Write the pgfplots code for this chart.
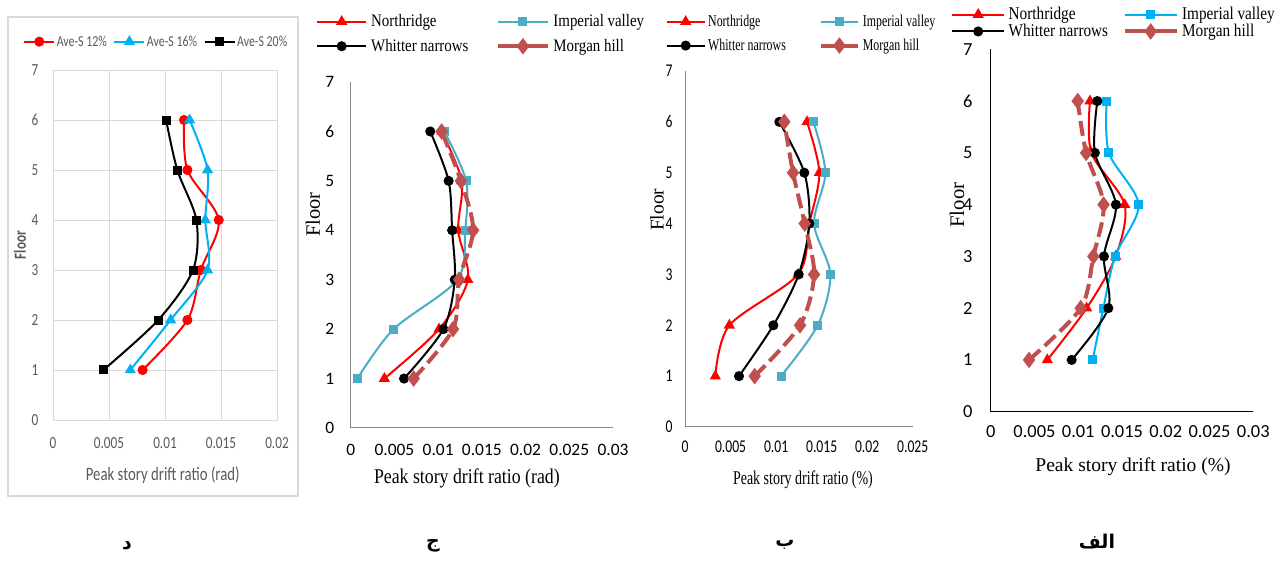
\documentclass[border=0pt]{standalone}
\usepackage{pgfplots}
\pgfplotsset{compat=1.18}
\usepackage{fontspec}
\setmainfont{Liberation Serif}
\newfontfamily\cbp[FakeStretch=0.78]{Carlito}
\newfontfamily\cbr{Carlito}
\newfontfamily\cbn[FakeStretch=0.76]{Carlito}
\newfontfamily\tnr[FakeStretch=0.85]{Liberation Serif}
\newfontfamily\tnrc[FakeStretch=0.72]{Liberation Serif}
\newfontfamily\tnrn{Liberation Serif}
\newfontfamily\arab[Script=Arabic]{DejaVu Sans}
\TeXXeTstate=1
\definecolor{xred}{HTML}{FF0000}
\definecolor{xcyan}{HTML}{00B0F0}
\definecolor{xteal}{HTML}{4BACC6}
\definecolor{xbrick}{HTML}{C0504D}
\definecolor{xgray}{HTML}{595959}
\definecolor{xgrid}{HTML}{D9D9D9}
\definecolor{xaxis}{HTML}{868686}
\newcommand\fs[1]{\fontsize{#1}{#1}\selectfont}
\pgfplotsset{
  common/.style={scale only axis, anchor=south west, clip=false,
    ymin=0, ymax=7, ytick={0,1,2,3,4,5,6,7}, yticklabels={0,1,2,3,4,5,6,7},
    scaled x ticks=false, scaled y ticks=false,
    tick style={draw=none},
    legend image post style={solid},
    legend cell align=left},
  panel/.style={common, axis x line*=bottom, axis y line*=left,
    axis line style={-, xaxis, line width=1bp},
    xmin=0, xmax=0.03,
    xtick={0,0.005,0.01,0.015,0.02,0.025,0.03},
    xticklabels={0,0.005,0.01,0.015,0.02,0.025,0.03}},
  leglen/.style={legend image code/.code={\draw[mark repeat=2,mark phase=2,##1] plot coordinates {(0bp,0bp) (#1/2,0bp) (#1,0bp)};}},
  nr/.style={xred, line width=2bp, smooth, mark=triangle*, mark size=4.5bp},
  iv/.style={#1, line width=2bp, smooth, mark=square*, mark size=3.5bp},
  wn/.style={black, line width=2bp, smooth, mark=*, mark size=4bp},
  mh/.style={xbrick, line width=4bp, smooth, dash pattern=on 15bp off 6bp, mark=diamond*, mark size=5bp, mark options={solid}},
}
\begin{document}
\begin{tikzpicture}
\useasboundingbox (0,0) rectangle (1283bp,561bp);
\draw[xgrid, line width=1.2bp] (8bp,65bp) rectangle (298bp,544bp);
% ---------------- panel d
\begin{axis}[common, at={(53bp,141bp)}, width=224bp, height=350bp,
  xmin=0, xmax=0.02, xtick={0,0.005,0.01,0.015,0.02}, xticklabels={0,0.005,0.01,0.015,0.02},
  grid=major, major grid style={xgrid, line width=0.8bp}, axis line style={xgrid, line width=0.8bp},
  xticklabel style={font=\cbp\fs{17}, text=xgray, anchor=center, yshift=-23bp},
  yticklabel style={font=\cbp\fs{17}, text=xgray, anchor=center, xshift=-18bp},
  xlabel={Peak story drift ratio (rad)},
  xlabel style={at={(axis description cs:0.49,-0.157)}, anchor=center, font=\cbp\fs{19}, text=xgray},
  ylabel={Floor},
  ylabel style={at={(axis description cs:-0.147,0.5)}, anchor=center, font=\cbp\bfseries\fs{17}, text=xgray},
  leglen=30bp, legend columns=3,
  legend style={draw=none, fill=none, at={(axis description cs:-0.147,1.081)}, anchor=west,
    font=\cbp\fs{15.3}, text=xgray, nodes={inner sep=1.5bp},
    /tikz/every even column/.append style={column sep=5bp}},
]
\addplot[xred, line width=2bp, smooth, mark=*, mark size=4bp] coordinates {(0.0080,1)(0.0120,2)(0.0132,3)(0.0148,4)(0.0120,5)(0.0117,6)};
\addlegendentry{Ave-S 12\%}
\addplot[xcyan, line width=2bp, smooth, mark=triangle*, mark size=4.5bp] coordinates {(0.0069,1)(0.0105,2)(0.0138,3)(0.0136,4)(0.0138,5)(0.0122,6)};
\addlegendentry{Ave-S 16\%}
\addplot[black, line width=2bp, smooth, mark=square*, mark size=3.5bp] coordinates {(0.0045,1)(0.0094,2)(0.0125,3)(0.0128,4)(0.0111,5)(0.0101,6)};
\addlegendentry{Ave-S 20\%}
\end{axis}
% ---------------- panel j
\begin{axis}[panel, at={(350.7bp,133bp)}, width=262.3bp, height=346bp,
  xticklabel style={font=\cbr\fs{17.5}, anchor=center, yshift=-22bp},
  yticklabel style={font=\cbr\fs{17.5}, anchor=center, xshift=-21bp},
  xlabel={Peak story drift ratio (rad)},
  xlabel style={at={(axis description cs:0.443,-0.145)}, anchor=center, font=\tnr\fs{21}},
  ylabel={Floor},
  ylabel style={at={(axis description cs:-0.144,0.616)}, anchor=center, font=\tnrn\fs{20.5}},
  leglen=49bp, legend columns=2,
  legend style={draw=none, fill=none, at={(axis description cs:-0.1437,1.139)}, anchor=west,
    font=\tnr\fs{17.6}, nodes={inner sep=1bp}, row sep=9bp,
    /tikz/every odd column/.append style={column sep=3bp},
    /tikz/every even column/.append style={column sep=27bp}},
]
\addplot[nr] coordinates {(0.00385,1)(0.0101,2)(0.0134,3)(0.0123,4)(0.0127,5)(0.0104,6)};
\addlegendentry{Northridge}
\addplot[iv=xteal] coordinates {(0.00076,1)(0.0049,2)(0.0122,3)(0.0131,4)(0.0132,5)(0.0107,6)};
\addlegendentry{Imperial valley}
\addplot[wn] coordinates {(0.0061,1)(0.0106,2)(0.0119,3)(0.0116,4)(0.0112,5)(0.0091,6)};
\addlegendentry{Whitter narrows}
\addplot[mh] coordinates {(0.0072,1)(0.0117,2)(0.0124,3)(0.0140,4)(0.0126,5)(0.0104,6)};
\addlegendentry{Morgan hill}
\end{axis}
% ---------------- panel b
\begin{axis}[panel, at={(685bp,134bp)}, width=227.7bp, height=356bp,
  xmax=0.025, xtick={0,0.005,0.01,0.015,0.02,0.025}, xticklabels={0,0.005,0.01,0.015,0.02,0.025},
  xticklabel style={font=\cbn\fs{18}, anchor=center, yshift=-20bp},
  yticklabel style={font=\cbn\fs{18}, anchor=center, xshift=-16bp},
  xlabel={Peak story drift ratio (\%)},
  xlabel style={at={(axis description cs:0.518,-0.149)}, anchor=center, font=\tnrc\fs{19.5}},
  ylabel={Floor},
  ylabel style={at={(axis description cs:-0.123,0.61)}, anchor=center, font=\tnrn\fs{19.5}},
  leglen=37bp, legend columns=2,
  legend style={draw=none, fill=none, at={(axis description cs:-0.0966,1.105)}, anchor=west,
    font=\tnrc\fs{16.6}, nodes={inner sep=1bp}, row sep=9bp,
    /tikz/every odd column/.append style={column sep=2bp},
    /tikz/every even column/.append style={column sep=32bp}},
]
\addplot[nr] coordinates {(0.00333,1)(0.00487,2)(0.0124,3)(0.01365,4)(0.01475,5)(0.0134,6)};
\addlegendentry{Northridge}
\addplot[iv=xteal] coordinates {(0.01054,1)(0.01457,2)(0.01596,3)(0.01417,4)(0.01541,5)(0.0141,6)};
\addlegendentry{Imperial valley}
\addplot[wn] coordinates {(0.00593,1)(0.0097,2)(0.01248,3)(0.01365,4)(0.0131,5)(0.01036,6)};
\addlegendentry{Whitter narrows}
\addplot[mh] coordinates {(0.00765,1)(0.01263,2)(0.01417,3)(0.01314,4)(0.01186,5)(0.0109,6)};
\addlegendentry{Morgan hill}
\end{axis}
% ---------------- panel alef
\begin{axis}[panel, at={(990.7bp,149.3bp)}, width=262.6bp, height=362.4bp,
  axis line style={-, black, line width=1bp},
  xticklabel style={font=\cbr\fs{18.5}, anchor=center, yshift=-20bp},
  yticklabel style={font=\cbr\fs{18.5}, anchor=center, xshift=-23bp},
  xlabel={Peak story drift ratio (\%)},
  xlabel style={at={(axis description cs:0.542,-0.153)}, anchor=center, font=\tnrn\fs{19.6}},
  ylabel={Floor},
  ylabel style={at={(axis description cs:-0.128,0.57)}, anchor=center, font=\tnrn\fs{20.8}},
  leglen=52bp, legend columns=2,
  legend style={draw=none, fill=none, at={(axis description cs:-0.1626,1.0726)}, anchor=west,
    font=\tnr\fs{18}, nodes={inner sep=0.5bp}, row sep=2bp,
    /tikz/every odd column/.append style={column sep=3bp},
    /tikz/every even column/.append style={column sep=14bp}},
]
\addplot[nr] coordinates {(0.00647,1)(0.01096,2)(0.01428,3)(0.0153,4)(0.0115,5)(0.01134,6)};
\addlegendentry{Northridge}
\addplot[iv=xcyan] coordinates {(0.01165,1)(0.01287,2)(0.0142,3)(0.0169,4)(0.0135,5)(0.01325,6)};
\addlegendentry{Imperial valley}
\addplot[wn] coordinates {(0.00925,1)(0.01344,2)(0.01294,3)(0.0143,4)(0.0119,5)(0.01218,6)};
\addlegendentry{Whitter narrows}
\addplot[mh] coordinates {(0.00438,1)(0.01028,2)(0.01173,3)(0.0129,4)(0.0109,5)(0.00994,6)};
\addlegendentry{Morgan hill}
\end{axis}
% ---------------- captions
\node at (127bp,15bp) {\arab\bfseries\fs{19}\beginR د\endR};
\node at (433bp,15bp) {\arab\bfseries\fs{19}\beginR ج\endR};
\node at (785bp,16bp) {\arab\bfseries\fs{19}\beginR ب\endR};
\node at (1097bp,19bp) {\arab\bfseries\fs{19}\beginR الف\endR};
\end{tikzpicture}
\end{document}
